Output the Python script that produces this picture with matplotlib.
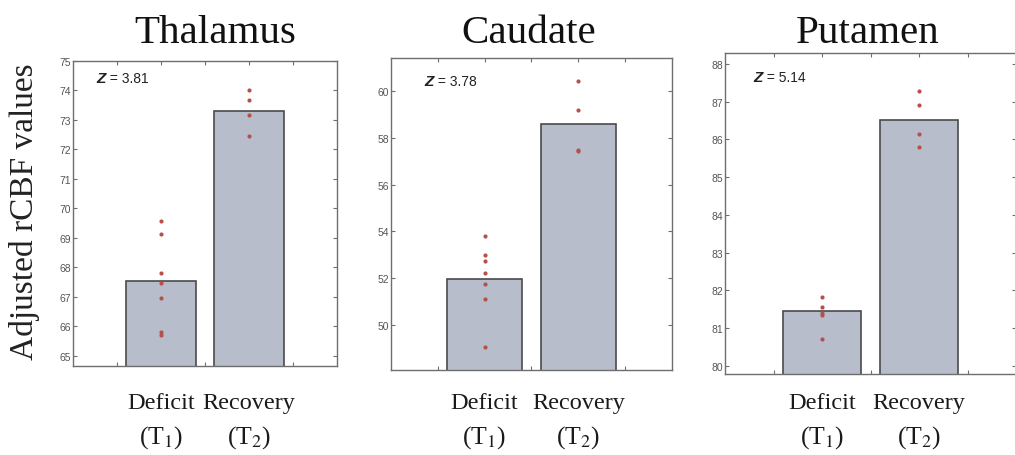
import numpy as np
import matplotlib as mpl
mpl.use('Agg')
import matplotlib.pyplot as plt
import matplotlib.transforms as mtransforms

mpl.rcParams['mathtext.fontset'] = 'stix'

# regions, bar means and individual subject values
regions = ['Thalamus', 'Caudate', 'Putamen']
z_scores = ['3.81', '3.78', '5.14']
bar_means = [[67.53, 73.32], [51.97, 58.59], [81.44, 86.52]]
deficit_pts = [[69.58, 69.12, 67.81, 67.47, 66.95, 65.81, 65.72],
               [53.82, 53.01, 52.73, 52.22, 51.75, 51.12, 49.09],
               [81.81, 81.55, 81.41, 81.35, 80.72]]
recovery_pts = [[74.03, 73.66, 73.18, 72.46],
                [60.40, 59.18, 57.49, 57.43],
                [87.29, 86.91, 86.15, 85.79]]
ylims = [(64.66, 75.0), (48.1, 61.39), (79.78, 88.29)]
yticks = [np.arange(65, 76, 1), np.arange(50, 61, 2), np.arange(80, 89, 1)]
conditions = ['Deficit', 'Recovery']
timepoints = ['(T$_1$)', '(T$_2$)']

# layout (figure fractions)
ax_rects = [[0.0719, 0.1952, 0.2601, 0.6689],
            [0.3852, 0.1864, 0.2768, 0.6842],
            [0.7143, 0.1776, 0.2870, 0.7039]]
title_x = [0.212, 0.521, 0.855]
z_pos = [(0.09, 0.945), (0.12, 0.925), (0.097, 0.925)]

bar_col = '#b7bdca'
edge_col = '#4a4a4a'
dot_col = '#b5504a'
frame_col = '#6e6e6e'

fig = plt.figure(figsize=(10.15, 4.56), dpi=100)

for i in range(3):
    ax = fig.add_axes(ax_rects[i])
    ax.bar([1, 2], bar_means[i], width=0.8, bottom=0, color=bar_col,
           edgecolor=edge_col, linewidth=1.2, zorder=2)
    ax.plot(np.ones(len(deficit_pts[i])), deficit_pts[i], 'o', ms=3,
            color=dot_col, mec='none', zorder=3)
    ax.plot(2 * np.ones(len(recovery_pts[i])), recovery_pts[i], 'o', ms=3,
            color=dot_col, mec='none', zorder=3)
    ax.set_xlim(0, 3)
    ax.set_ylim(*ylims[i])
    ax.set_xticks([0.5, 1, 1.5, 2, 2.5])
    ax.set_xticklabels([])
    ax.set_yticks(yticks[i])
    ax.tick_params(direction='in', top=True, right=True, length=3,
                   width=0.8, color=frame_col, labelsize=7.5,
                   labelcolor='#555555', pad=1.5)
    for lab in ax.get_yticklabels():
        lab.set_fontfamily('Liberation Sans')
    for sp in ax.spines.values():
        sp.set_color(frame_col)
        sp.set_linewidth(1.0)

    # Z annotation
    zt = ax.text(z_pos[i][0], z_pos[i][1], 'Z', transform=ax.transAxes,
                 fontsize=11, fontweight='bold', fontstyle='italic',
                 family='Liberation Sans', color='#222222', va='center')
    ax.annotate(' = ' + z_scores[i], xy=(1, 0.5), xycoords=zt,
                va='center', ha='left', fontsize=10,
                family='Liberation Sans', color='#222222')

    # title
    fig.text(title_x[i], 0.905, regions[i], ha='center', va='baseline',
             fontsize=29.5, family='Liberation Serif', color='#111111')

    # condition labels under the bars
    trans = mtransforms.blended_transform_factory(ax.transData, fig.transFigure)
    for k in range(2):
        ax.text(k + 1, 1 - 409 / 456, conditions[k], transform=trans,
                ha='center', va='baseline', fontsize=17.5,
                family='Liberation Serif', color='#1a1a1a')
        ax.text(k + 1, 1 - 444 / 456, timepoints[k], transform=trans,
                ha='center', va='baseline', fontsize=18.5,
                family='Liberation Serif', color='#1a1a1a')

    if i == 0:
        fig.text(0.024, 0.535, 'Adjusted rCBF values', rotation=90,
                 ha='center', va='center', fontsize=24,
                 family='Liberation Serif', color='#222222')

fig.savefig('out.png', dpi=100)
